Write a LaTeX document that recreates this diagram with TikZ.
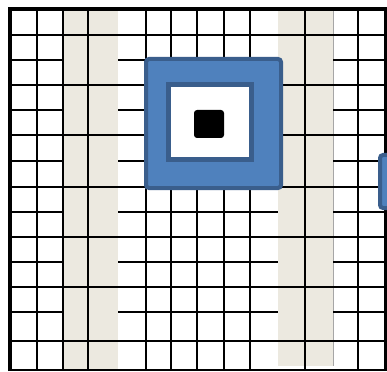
\documentclass[tikz,border=0pt]{standalone}
\usepackage{tikz}

\definecolor{stripegray}{RGB}{236,233,224}
\definecolor{boxblue}{RGB}{79,129,189}
\definecolor{boxedge}{RGB}{58,94,140}

\begin{document}
\begin{tikzpicture}[x=1pt,y=-1pt,
  gridline/.style={line width=2pt},
  frameline/.style={line width=4pt},
  stripe/.style={fill=stripegray},
  bluebox/.style={fill=boxblue,draw=boxedge,line width=4pt,rounded corners=3pt}]
  \useasboundingbox (0,0) rectangle (387,371);
  \clip (0,0) rectangle (387,371);
  \fill[white] (0,0) rectangle (387,371);
  % light columns
  \fill[stripe] (63,10) rectangle (118,371);
  \fill[stripe] (278,10) rectangle (333,366);
  % vertical lines
  \foreach \x in {37,63,88,146,171,197,224,250,305,358} \draw[gridline] (\x,10) -- (\x,371);
  \draw[line width=1pt,gray!70] (333,10) -- (333,366);
  % horizontal lines, every other one stops at the light columns
  \foreach \y in {35,85,135,187,237,287,341} \draw[gridline] (10,\y) -- (385,\y);
  \foreach \y in {60,110,161,212,262,312} {
    \draw[gridline] (10,\y) -- (63,\y);
    \draw[gridline] (118,\y) -- (278,\y);
    \draw[gridline] (333,\y) -- (385,\y);
  }
  \draw[gridline] (10,369.5) -- (385,369.5);
  % frame
  \draw[frameline] (9.5,371) -- (9.5,9.5) -- (385.5,9.5) -- (385.5,371);
  % blue squares
  \draw[bluebox] (146,59) rectangle (281,188);
  \draw[fill=white,draw=boxedge,line width=5pt] (168.5,84.5) rectangle (251.5,159.5);
  \fill[black,rounded corners=3pt] (194,110) rectangle (224,138);
  \draw[bluebox] (380,155) rectangle (400,208); % cut at the edge
\end{tikzpicture}
\end{document}
